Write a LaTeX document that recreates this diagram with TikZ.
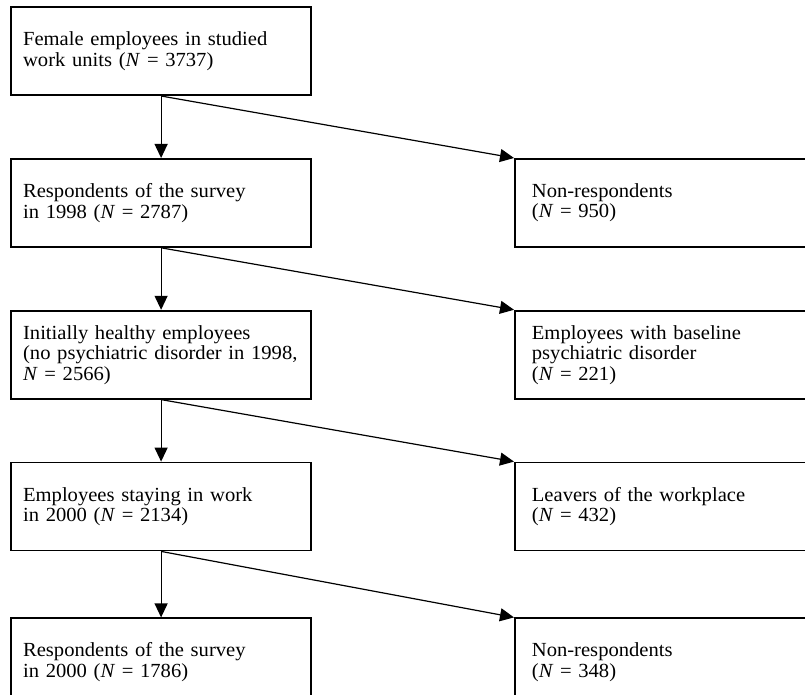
\documentclass[tikz,border=0pt]{standalone}
\usepackage{fontspec}
\setmainfont{Liberation Serif}[FakeStretch=1.03]
\usetikzlibrary{arrows.meta,matrix,chains,scopes}
\tikzset{stage/.style={
    rectangle,minimum height=88pt,
    line width=1.8pt,draw=black,
    text width=276pt,inner xsep=12pt,
    align=left,
    font=\fontsize{20pt}{20.5pt}\selectfont}
}
\tikzset{drop/.style={
    stage,text width=266pt,inner xsep=17pt}
}
\tikzset{>={Triangle[length=14pt,width=13pt]},
  arrow/.style={->,line width=1.2pt},
  every join/.style={arrow},
}

\begin{document}
\begin{tikzpicture}
    \useasboundingbox (0,0) rectangle (805pt,-695pt);
    \matrix (flow) [matrix anchor=north west, column sep=202pt, row sep=62pt, inner sep=0pt] at (10pt,-6pt) {
      % row 1
      \node (female) [stage] {Female employees in studied\\work units (\textit{N} = 3737)}; & \\
      % row 2
      \node (resp98) [stage] {Respondents of the survey\\in 1998 (\textit{N} = 2787)}; &
      \node (nonresp98) [drop] {Non-respondents\\(\textit{N} = 950)}; \\
      % row 3
      \node (healthy) [stage] {Initially healthy employees\\(no psychiatric disorder in 1998,\\\textit{N} = 2566)}; &
      \node (baseline) [drop] {Employees with baseline\\psychiatric disorder\\(\textit{N} = 221)}; \\
      % row 4
      \node (stay) [stage] {Employees staying in work\\in 2000 (\textit{N} = 2134)}; &
      \node (leavers) [drop] {Leavers of the workplace\\(\textit{N} = 432)}; \\[4pt]
      % row 5
      \node (resp00) [stage] {Respondents of the survey\\in 2000 (\textit{N} = 1786)}; &
      \node (nonresp00) [drop] {Non-respondents\\(\textit{N} = 348)}; \\
    };
    { [start chain, every on chain/.style={join}]
      \chainin (female);
      \chainin (resp98);
      \chainin (healthy);
      \chainin (stay);
      \chainin (resp00);
    }
    % drop-outs
    \foreach \src/\dst in {female/nonresp98, resp98/baseline, healthy/leavers, stay/nonresp00}
      \draw [arrow] (\src.south) -- (\dst.north west);
\end{tikzpicture}
\end{document}
